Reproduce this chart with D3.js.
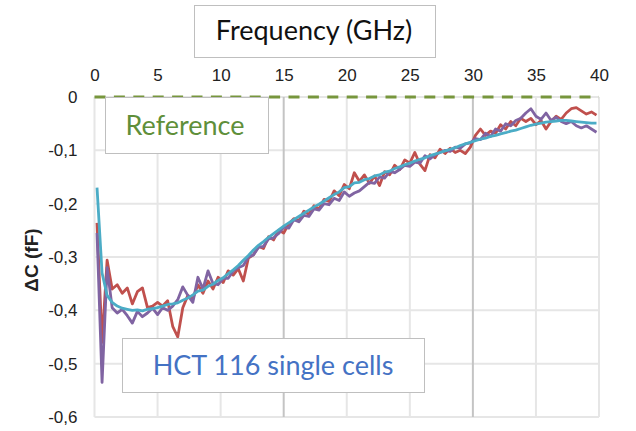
<!DOCTYPE html>
<html>
<head>
<meta charset="utf-8">
<script src="https://cdn.jsdelivr.net/npm/d3@7"></script>
<style>
  body { margin: 0; background: #fff; }
  svg { display: block; }
  .tick text { font-family: "Liberation Sans", Arial, sans-serif; font-size: 17px; fill: #222; }
</style>
</head>
<body>
<svg></svg>
<script>
// frequency sweep, GHz (0.2 .. 39.8 in 0.4 steps)
let freq = d3.range(100).map((i) => +(0.2 + i * 0.4).toFixed(1));

let redCell = [
  -0.236, -0.460, -0.306, -0.360, -0.352, -0.368, -0.358, -0.388, -0.365, -0.358,
  -0.395, -0.392, -0.385, -0.392, -0.382, -0.430, -0.450, -0.395, -0.372, -0.378,
  -0.352, -0.368, -0.345, -0.360, -0.338, -0.348, -0.326, -0.334, -0.322, -0.345,
  -0.302, -0.296, -0.280, -0.284, -0.262, -0.268, -0.250, -0.255, -0.238, -0.228,
  -0.232, -0.214, -0.220, -0.204, -0.210, -0.192, -0.196, -0.176, -0.185, -0.164,
  -0.172, -0.142, -0.158, -0.146, -0.162, -0.148, -0.166, -0.140, -0.146, -0.128,
  -0.136, -0.118, -0.124, -0.104, -0.126, -0.138, -0.108, -0.114, -0.098, -0.106,
  -0.096, -0.104, -0.100, -0.106, -0.094, -0.072, -0.060, -0.072, -0.064, -0.068,
  -0.052, -0.060, -0.046, -0.054, -0.040, -0.046, -0.040, -0.052, -0.044, -0.060,
  -0.046, -0.036, -0.042, -0.030, -0.022, -0.020, -0.026, -0.032, -0.028, -0.034
];

let purpleCell = [
  -0.255, -0.535, -0.320, -0.395, -0.405, -0.398, -0.410, -0.424, -0.402, -0.412,
  -0.405, -0.396, -0.408, -0.395, -0.400, -0.392, -0.380, -0.356, -0.372, -0.385,
  -0.338, -0.360, -0.326, -0.350, -0.352, -0.340, -0.340, -0.326, -0.320, -0.316,
  -0.300, -0.296, -0.282, -0.280, -0.266, -0.264, -0.256, -0.244, -0.246, -0.230,
  -0.234, -0.222, -0.224, -0.210, -0.212, -0.200, -0.202, -0.190, -0.194, -0.178,
  -0.186, -0.180, -0.176, -0.168, -0.160, -0.162, -0.150, -0.152, -0.140, -0.142,
  -0.136, -0.128, -0.130, -0.122, -0.124, -0.110, -0.116, -0.108, -0.104, -0.100,
  -0.102, -0.094, -0.096, -0.088, -0.086, -0.078, -0.080, -0.068, -0.074, -0.060,
  -0.064, -0.050, -0.054, -0.044, -0.040, -0.030, -0.022, -0.036, -0.042, -0.030,
  -0.044, -0.038, -0.046, -0.050, -0.046, -0.054, -0.058, -0.054, -0.060, -0.066
];

let cyanCell = [
  -0.170, -0.330, -0.372, -0.385, -0.392, -0.396, -0.398, -0.400, -0.399, -0.401,
  -0.398, -0.397, -0.395, -0.392, -0.389, -0.388, -0.386, -0.381, -0.377, -0.371,
  -0.364, -0.362, -0.355, -0.351, -0.344, -0.339, -0.331, -0.324, -0.316, -0.306,
  -0.297, -0.287, -0.278, -0.271, -0.263, -0.256, -0.249, -0.242, -0.236, -0.230,
  -0.224, -0.218, -0.212, -0.206, -0.201, -0.195, -0.189, -0.183, -0.178, -0.170,
  -0.168, -0.161, -0.160, -0.155, -0.153, -0.148, -0.146, -0.141, -0.139, -0.134,
  -0.131, -0.127, -0.124, -0.120, -0.117, -0.114, -0.110, -0.107, -0.104, -0.101,
  -0.098, -0.095, -0.091, -0.088, -0.085, -0.082, -0.079, -0.077, -0.074, -0.072,
  -0.069, -0.067, -0.064, -0.062, -0.059, -0.056, -0.053, -0.051, -0.049, -0.047,
  -0.046, -0.045, -0.044, -0.044, -0.045, -0.046, -0.047, -0.048, -0.049, -0.049
];

let xTicks = [0, 5, 10, 15, 20, 25, 30, 35, 40];
let yTicks = [0, -0.1, -0.2, -0.3, -0.4, -0.5, -0.6];
let darkXTicks = [15, 30];

let width = 636;
let height = 431;
let plotLeft = 94.5, plotRight = 599, plotTop = 97, plotBottom = 417;

let svg = d3.select("svg").attr("width", width).attr("height", height);

let x = d3.scaleLinear().domain([0, 40]).range([plotLeft, plotRight]);
let y = d3.scaleLinear().domain([-0.6, 0]).range([plotBottom, plotTop]);

// grid
svg.append("g").selectAll("line")
  .data(yTicks)
  .enter().append("line")
  .attr("x1", plotLeft).attr("x2", plotRight)
  .attr("y1", (d) => y(d)).attr("y2", (d) => y(d))
  .attr("stroke", "#e6e6e6").attr("stroke-width", 2);

svg.append("g").selectAll("line")
  .data(xTicks)
  .enter().append("line")
  .attr("x1", (d) => x(d)).attr("x2", (d) => x(d))
  .attr("y1", plotTop).attr("y2", plotBottom)
  .attr("stroke", (d) => darkXTicks.includes(d) ? "#c4c4c4" : "#e6e6e6")
  .attr("stroke-width", 2);

// axes
let xAxis = d3.axisTop(x).tickValues(xTicks).tickSize(0).tickPadding(16);
svg.append("g")
  .attr("transform", "translate(0," + plotTop + ")")
  .call(xAxis)
  .call((g) => g.select(".domain").remove());

let yAxis = d3.axisLeft(y).tickValues(yTicks).tickSize(0).tickPadding(17)
  .tickFormat((d) => d === 0 ? "0" : d.toFixed(1).replace(".", ","));
svg.append("g")
  .attr("transform", "translate(" + plotLeft + ",0)")
  .call(yAxis)
  .call((g) => g.select(".domain").remove());

// reference dashed line
svg.append("line")
  .attr("x1", x(0)).attr("x2", x(40))
  .attr("y1", y(0)).attr("y2", y(0))
  .attr("stroke", "#77963d").attr("stroke-width", 3)
  .attr("stroke-dasharray", "11,8.4");

// curves
let line = d3.line()
  .x((d, i) => x(freq[i]))
  .y((d) => y(d));

let series = [
  { values: redCell, color: "#c0504d" },
  { values: purpleCell, color: "#8064a2" },
  { values: cyanCell, color: "#4bacc6" }
];

svg.append("g").selectAll("path")
  .data(series)
  .enter().append("path")
  .attr("d", (d) => line(d.values))
  .attr("fill", "none")
  .attr("stroke", (d) => d.color)
  .attr("stroke-width", 2.8)
  .attr("stroke-linejoin", "round");

// label boxes
let boxes = [
  { x0: 194.5, y0: 5.5, w: 241, h: 52, text: "Frequency (GHz)", color: "#111", tx: 314, ty: 40 },
  { x0: 105.5, y0: 97.5, w: 163, h: 56, text: "Reference", color: "#5f8f3a", tx: 185, ty: 135 },
  { x0: 122.5, y0: 338.5, w: 302, h: 54, text: "HCT 116 single cells", color: "#4472c4", tx: 273, ty: 375 }
];

let box = svg.append("g").selectAll("g")
  .data(boxes)
  .enter().append("g");

box.append("rect")
  .attr("x", (d) => d.x0).attr("y", (d) => d.y0)
  .attr("width", (d) => d.w).attr("height", (d) => d.h)
  .attr("fill", "#fff").attr("stroke", "#bfbfbf").attr("stroke-width", 1);

box.append("text")
  .attr("x", (d) => d.tx).attr("y", (d) => d.ty)
  .attr("text-anchor", "middle")
  .attr("font-family", "Lato, 'Open Sans', sans-serif")
  .attr("font-size", 27)
  .attr("fill", (d) => d.color)
  .text((d) => d.text);

// y title
svg.append("text")
  .attr("transform", "translate(38,260) rotate(-90)")
  .attr("text-anchor", "middle")
  .attr("font-family", "'Liberation Sans', Arial, sans-serif")
  .attr("font-weight", "bold")
  .attr("font-size", 19)
  .attr("fill", "#222")
  .text("ΔC (fF)");
</script>
</body>
</html>
